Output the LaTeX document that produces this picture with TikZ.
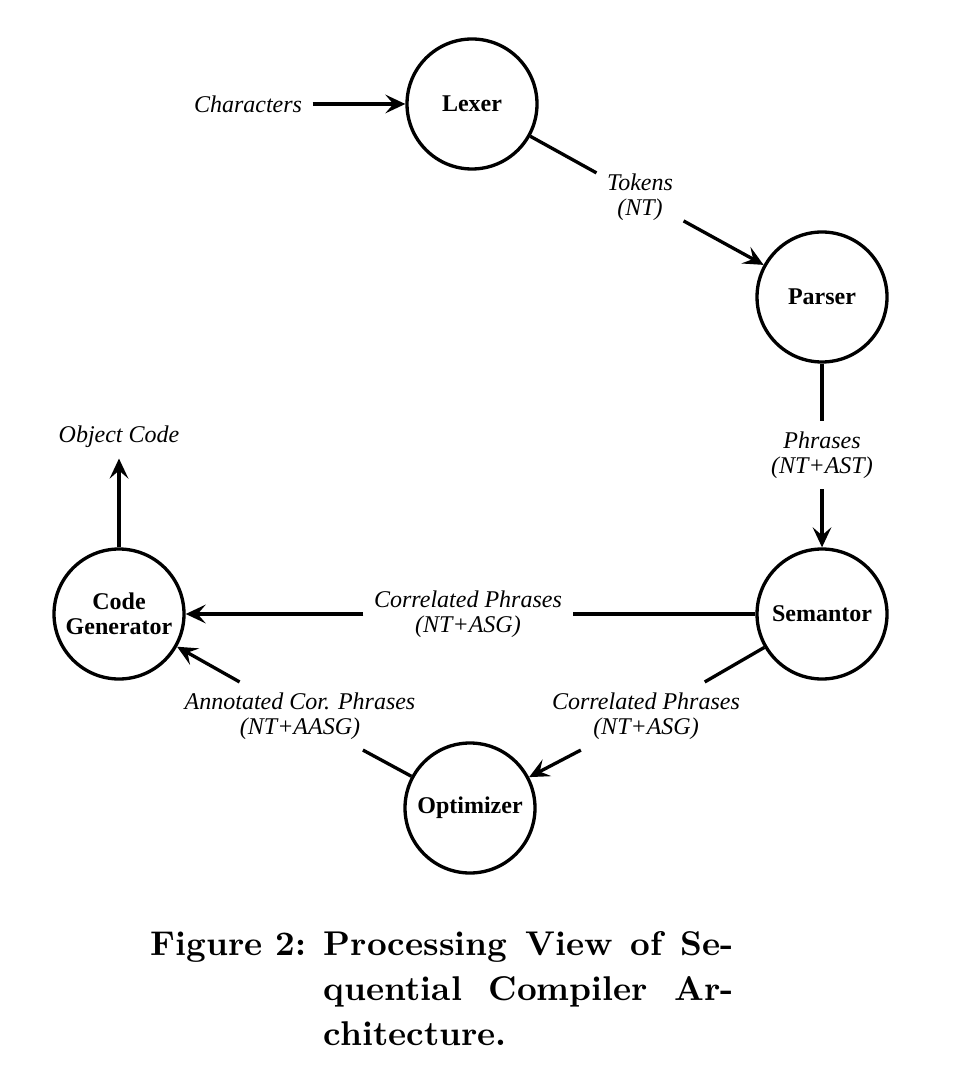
\documentclass[tikz,border=0pt]{standalone}
\usepackage{fontspec}
\newfontfamily\timesfont{Liberation Serif}
\usetikzlibrary{arrows.meta}

\begin{document}
\begin{tikzpicture}
[x=0.3pt,y=-0.3pt,
  lineDecorate/.style={-,line width=1pt},%
  arrowDecorate/.style={-{Stealth[length=6pt,width=5.6pt,inset=2.4pt]},line width=1pt},%
  nodeDecorate/.style={shape=circle,draw,line width=1pt,minimum size=39pt,inner sep=0pt,
    align=center,font=\timesfont\bfseries\fontsize{7.2}{7.5}\selectfont},%
  labelDecorate/.style={inner sep=3pt,align=center,
    font=\timesfont\itshape\fontsize{7.2}{7.5}\selectfont}]
\useasboundingbox (0,0) rectangle (958,1088);
%% stages of the compiler
\foreach \nodename/\x/\y/\nodetext in {
  lexer/472/104/Lexer, parser/822/297/Parser, semantor/822/614/Semantor,
  optimizer/470/808/Optimizer, codegen/119/614/{Code\\Generator}}
{
  \node (\nodename) at (\x,\y) [nodeDecorate] {\nodetext};
}
%% what flows between them
\foreach \labelname/\x/\y/\labeltext in {
  chars/248/104/Characters, tokens/640/197/{Tokens\\(NT)},
  phrases/822/455/{Phrases\\(NT+AST)},
  corr/468/614/{Correlated Phrases\\(NT+ASG)},
  corrlow/646/716/{Correlated Phrases\\(NT+ASG)},
  annot/300/716/{Annotated Cor. Phrases\\(NT+AASG)},
  objcode/119/437/Object Code}
{
  \node (\labelname) at (\x,\y) [labelDecorate] {\labeltext};
}
%% edges, broken by their labels
\foreach \startnode/\vianode/\endnode in {
  lexer/tokens/parser, parser/phrases/semantor, semantor/corr/codegen,
  semantor/corrlow/optimizer, optimizer/annot/codegen}
{
  \draw[lineDecorate] (\startnode) -- (\vianode);
  \draw[arrowDecorate] (\vianode) -- (\endnode);
}
\draw[arrowDecorate] (chars) -- (lexer);
\draw[arrowDecorate] (codegen) -- (objcode);
%% caption
\node (caption) [anchor=base west,inner sep=0pt,
  font=\bfseries\fontsize{10.3}{13.5}\selectfont] at (150,955)
  {Figure 2: \parbox[t]{123pt}{\makebox[\linewidth][s]{Processing View of Se-}\\
    \makebox[\linewidth][s]{quential Compiler Ar-}\\
    chitecture.}};
\end{tikzpicture}
\end{document}
